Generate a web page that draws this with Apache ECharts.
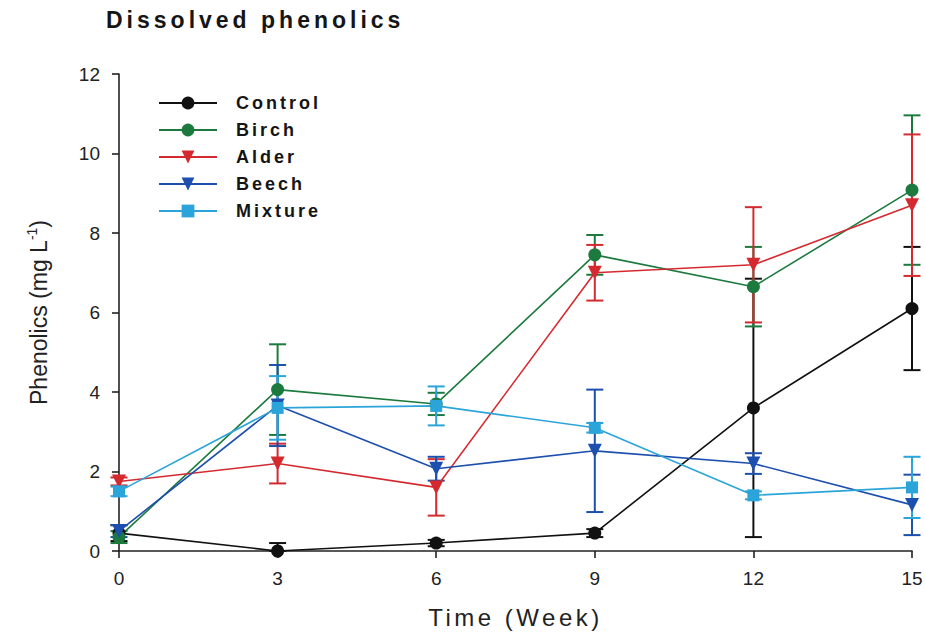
<!DOCTYPE html>
<html>
<head>
<meta charset="utf-8">
<script src="https://cdn.jsdelivr.net/npm/echarts@6/dist/echarts.min.js"></script>
<style>
  html, body { margin: 0; padding: 0; background: #ffffff; }
  #chart { width: 925px; height: 632px; }
</style>
</head>
<body>
<div id="chart"></div>
<script>
// Sampling times (weeks)
const weeks = [0, 3, 6, 9, 12, 15];

// Mean dissolved phenolics (mg L-1) and standard errors per treatment
const control    = [0.45, 0.0, 0.2, 0.45, 3.6, 6.1];
const controlErr = [0.2, 0.2, 0.08, 0.1, 3.25, 1.55];
const birch      = [0.35, 4.06, 3.7, 7.45, 6.65, 9.08];
const birchErr   = [0.15, 1.14, 0.28, 0.5, 1.0, 1.88];
const alder      = [1.75, 2.2, 1.6, 7.0, 7.2, 8.7];
const alderErr   = [0.1, 0.5, 0.71, 0.7, 1.45, 1.78];
const beech      = [0.5, 3.66, 2.07, 2.52, 2.2, 1.16];
const beechErr   = [0.15, 1.02, 0.3, 1.54, 0.26, 0.76];
const mixture    = [1.5, 3.6, 3.65, 3.1, 1.4, 1.6];
const mixtureErr = [0.12, 0.8, 0.49, 0.12, 0.1, 0.77];

const yTicks = { min: 0, max: 12, step: 2 };
const xTicks = { min: 0, max: 15, step: 3 };

const treatments = [
  { name: 'Control', mean: control, err: controlErr, color: '#111111', symbol: 'circle', size: 13, rotate: 0 },
  { name: 'Birch',   mean: birch,   err: birchErr,   color: '#1c7a3e', symbol: 'circle', size: 13, rotate: 0 },
  { name: 'Alder',   mean: alder,   err: alderErr,   color: '#d42a2f', symbol: 'triangle', size: 14, rotate: 180 },
  { name: 'Beech',   mean: beech,   err: beechErr,   color: '#1d4fae', symbol: 'triangle', size: 14, rotate: 180 },
  { name: 'Mixture', mean: mixture, err: mixtureErr, color: '#2ba5d9', symbol: 'rect', size: 12, rotate: 0 }
];

const FONT = '"Liberation Sans", Arial, Helvetica, sans-serif';

function errorBars(t) {
  return {
    type: 'custom',
    name: t.name + ' SE',
    silent: true,
    z: 2,
    data: weeks.map((w, i) => [w, t.mean[i], t.err[i]]),
    encode: { x: 0, y: 1 },
    renderItem: function (params, api) {
      const x = api.value(0), m = api.value(1), e = api.value(2);
      const hi = api.coord([x, m + e]);
      const lo = api.coord([x, Math.max(0, m - e)]);
      const hw = 8.5;
      const st = { stroke: t.color, lineWidth: 2 };
      return {
        type: 'group',
        children: [
          { type: 'line', shape: { x1: hi[0], y1: hi[1], x2: lo[0], y2: lo[1] }, style: st },
          { type: 'line', shape: { x1: hi[0] - hw, y1: hi[1], x2: hi[0] + hw, y2: hi[1] }, style: st },
          { type: 'line', shape: { x1: lo[0] - hw, y1: lo[1], x2: lo[0] + hw, y2: lo[1] }, style: st }
        ]
      };
    }
  };
}

function meanLine(t) {
  return {
    type: 'line',
    name: t.name,
    z: 3,
    data: weeks.map((w, i) => [w, t.mean[i]]),
    symbol: t.symbol,
    symbolSize: t.size,
    symbolRotate: t.rotate,
    showAllSymbol: true,
    lineStyle: { color: t.color, width: 1.6 },
    itemStyle: { color: t.color, borderWidth: 0 }
  };
}

const chart = echarts.init(document.getElementById('chart'), null, { renderer: 'svg' });

chart.setOption({
  animation: false,
  backgroundColor: '#ffffff',
  title: {
    text: 'Dissolved phenolics',
    left: 101,
    top: 3,
    textStyle: { fontFamily: FONT, fontSize: 23, fontWeight: 'bold', color: '#151515' }
  },
  legend: {
    orient: 'vertical',
    left: 153,
    top: 89,
    data: treatments.map(t => t.name),
    itemWidth: 58,
    itemHeight: 16,
    itemGap: 9,
    selectedMode: false,
    textStyle: {
      fontFamily: FONT, fontSize: 18, fontWeight: 'bold', color: '#151515',
      lineHeight: 18, padding: [0, 0, 0, 14]
    }
  },
  grid: { left: 119, right: 13, top: 74, bottom: 81, containLabel: false, outerBoundsMode: 'none' },
  xAxis: {
    type: 'value',
    min: xTicks.min, max: xTicks.max, interval: xTicks.step,
    name: 'Time (Week)',
    nameLocation: 'middle',
    nameGap: 54,
    nameTextStyle: { fontFamily: FONT, fontSize: 24, color: '#222222' },
    axisLine: { show: true, onZero: false, lineStyle: { color: '#222222', width: 1.6 } },
    axisTick: { show: true, length: 7, lineStyle: { color: '#222222', width: 1.6 } },
    axisLabel: { fontFamily: FONT, fontSize: 19, color: '#222222', margin: 18 },
    splitLine: { show: false }
  },
  yAxis: {
    type: 'value',
    min: yTicks.min, max: yTicks.max, interval: yTicks.step,
    name: '{a|Phenolics (mg L}{s|-1}{a|)}',
    nameLocation: 'middle',
    nameRotate: 90,
    nameGap: 67,
    nameTextStyle: {
      rich: {
        a: { fontFamily: FONT, fontSize: 23, color: '#222222', lineHeight: 27 },
        s: { fontFamily: FONT, fontSize: 14, color: '#222222', lineHeight: 14, verticalAlign: 'top' }
      }
    },
    axisLine: { show: true, onZero: false, lineStyle: { color: '#222222', width: 1.6 } },
    axisTick: { show: true, length: 7, lineStyle: { color: '#222222', width: 1.6 } },
    axisLabel: { fontFamily: FONT, fontSize: 19, color: '#222222', margin: 19 },
    splitLine: { show: false }
  },
  series: treatments.map(errorBars).concat(treatments.map(meanLine))
});

// Wider tracking on the title, legend and axis name
const tracking = {
  'Dissolved phenolics': 4,
  'Control': 3, 'Birch': 3, 'Alder': 3, 'Beech': 3, 'Mixture': 3,
  'Time (Week)': 3.5
};
function applyTracking() {
  document.querySelectorAll('#chart svg text').forEach(function (el) {
    const s = tracking[el.textContent];
    if (s != null) el.setAttribute('letter-spacing', s);
  });
}
chart.on('finished', applyTracking);
applyTracking();
setTimeout(applyTracking, 50);
</script>
</body>
</html>
